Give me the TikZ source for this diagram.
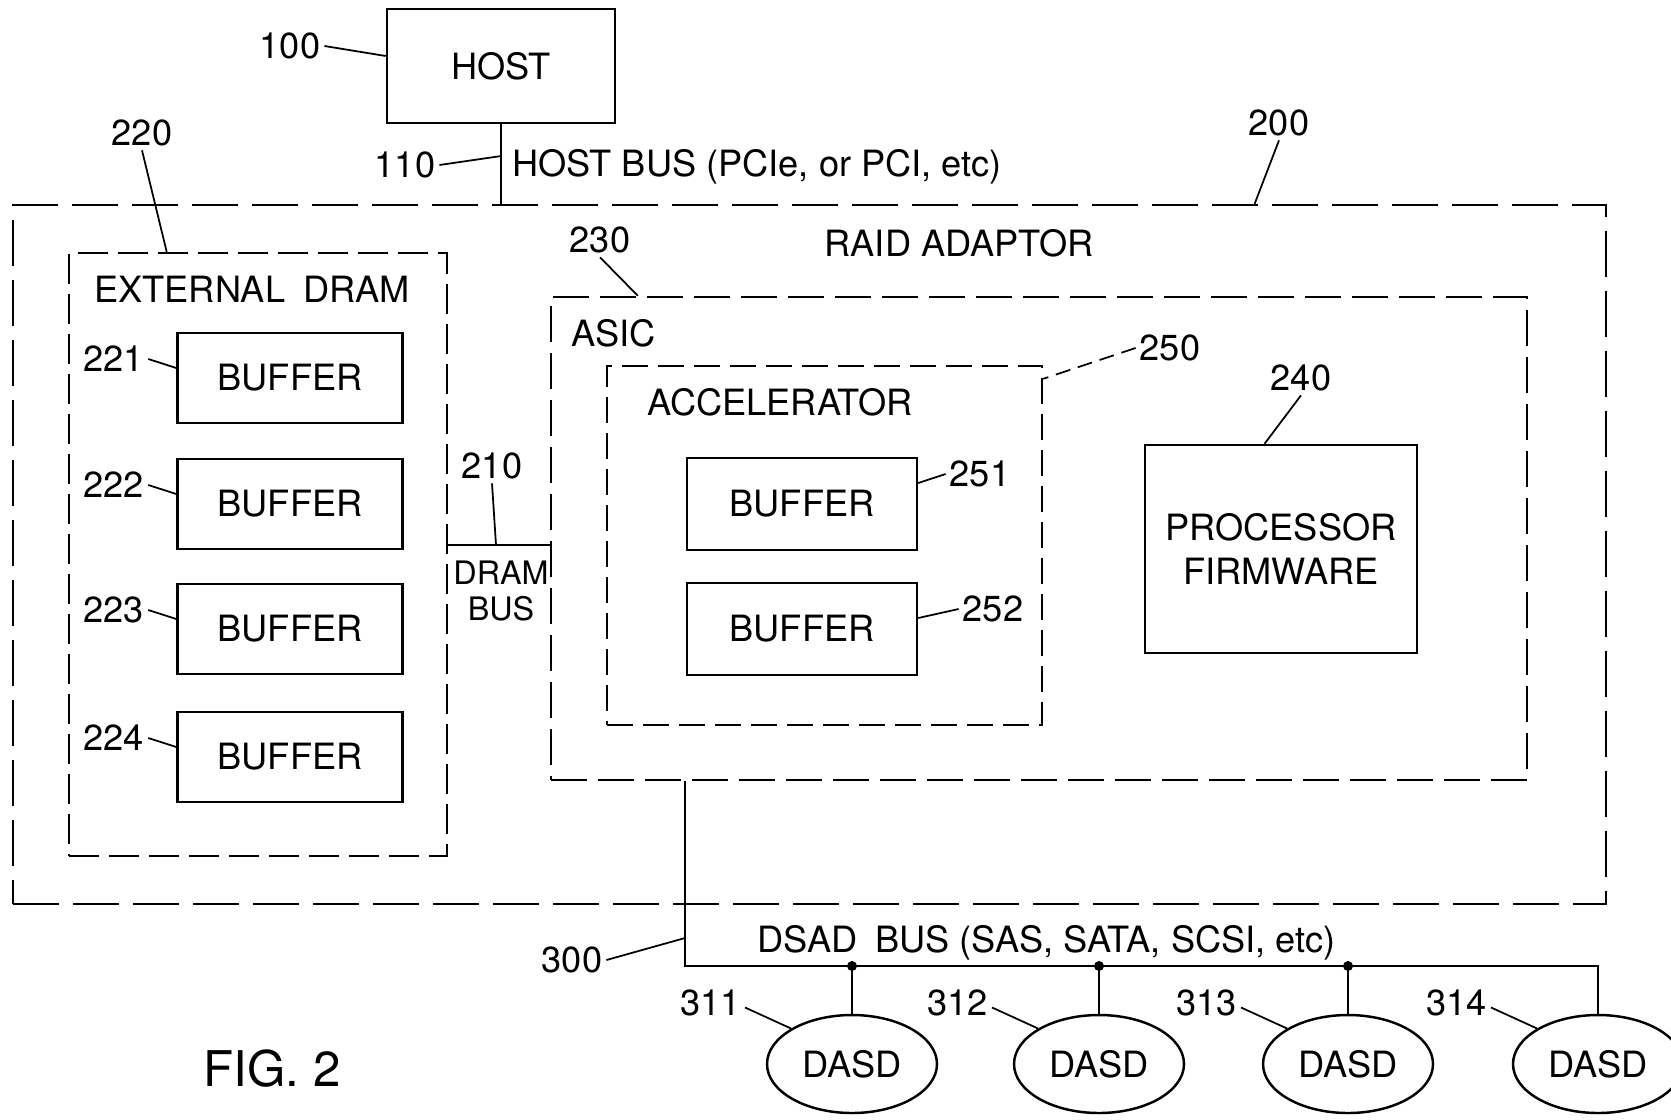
\documentclass[tikz,border=0pt]{standalone}
\usepackage{fontspec}
\setmainfont{TeX Gyre Heros}
\usetikzlibrary{shapes.geometric,calc,positioning}
\tikzset{
  every node/.style={font=\fontsize{10.3}{12.4}\selectfont},
  box/.style={draw, line width=0.7pt, inner sep=2pt, align=center},
  dashbox/.style={draw, line width=0.7pt, dash pattern=#1, inner sep=0pt},
  lead/.style={draw, line width=0.5pt},
  bus/.style={draw, line width=0.7pt},
  num/.style={inner sep=1pt},
  disk/.style={ellipse, draw, line width=0.7pt, minimum width=17mm, minimum height=9.8mm, inner sep=0pt},
}

\begin{document}
\begin{tikzpicture}[x=0.1mm, y=-0.1mm]
\useasboundingbox (0,0) rectangle (1671,1119);
\clip (0,0) rectangle (1671,1119);

% ---- host and host bus ----
\node[box, minimum width=22.8mm, minimum height=11.4mm] (host) at (501,66) {HOST};
\node[num] (n100) at (290,46) {100};
\draw[lead] (n100.east) -- ([yshift=1mm]host.west);

\node[dashbox={on 4.6mm off 1.4mm}, minimum width=159.3mm, minimum height=69.9mm] (raid) at (809.5,554.5) {};
\node at (959,243) {RAID ADAPTOR};
\node[num] (n200) at (1279,123) {200};
\draw[lead] (n200.south) -- ($(raid.north west)!0.779!(raid.north east)$);

\coordinate (hb) at ($(host.south)!0.4!(host.south |- raid.north)$);
\draw[bus] (host.south) -- (host.south |- raid.north);
\node[num] (n110) at (405,165) {110};
\draw[lead] (n110.east) -- (hb);
\node[anchor=west] (hbus) at (500,167) {HOST BUS (PCIe, or PCI, etc)};

% ---- external dram ----
\node[dashbox={on 3mm off 1mm}, minimum width=37.8mm, minimum height=60.3mm] (dram) at (258,554.5) {};
\node[anchor=west] at (82,289) {EXTERNAL\enspace DRAM};
\node[num] (n220) at (142,133) {220};
\draw[lead] (n220.south) -- ($(dram.north west)!0.26!(dram.north east)$);

\foreach \k/\y in {221/378, 222/504, 223/629, 224/757}{
  \node[box, minimum width=22.5mm, minimum height=9mm] (b\k) at (290,\y) {BUFFER};
  \node[num, anchor=east] (n\k) at ($(b\k.west)+(-28,-19)$) {\k};
  \draw[lead] (n\k.east) -- ([yshift=1mm]b\k.west);
}

% ---- asic ----
\node[dashbox={on 3.6mm off 1.1mm}, minimum width=97.6mm, minimum height=48.3mm] (asic) at (1039,538.5) {};
\node[anchor=west] at (559,333) {ASIC};
\node[num] (n230) at (600,240) {230};
\draw[lead] (n230.south) -- ($(asic.north west)!0.09!(asic.north east)$);

% dram bus
\coordinate (db) at (496,545);
\draw[bus] (db -| dram.east) -- (db -| asic.west);
\node[align=center, font=\fontsize{9.2}{10}\selectfont] (dbus) at (501,591) {DRAM\\BUS};
\node[num] (n210) at (492,466) {210};
\draw[lead] (n210.south) -- (db);

% accelerator
\node[dashbox={on 2.6mm off 1mm}, minimum width=43.5mm, minimum height=35.9mm] (accel) at (824.5,545.5) {};
\node at (780,402) {ACCELERATOR};
\node[num] (n250) at (1170,348) {250};
\draw[lead, dash pattern=on 1.5mm off 0.8mm] (n250.west) -- ([yshift=-1.4mm]accel.north east);

\foreach \k/\y in {251/504, 252/629}
  \node[box, minimum width=23mm, minimum height=9.2mm] (b\k) at (802,\y) {BUFFER};
\node[num] (n251) at (980,474) {251};
\draw[lead] (n251.west) -- ([yshift=2.1mm]b251.east);
\node[num] (n252) at (993,609) {252};
\draw[lead] (n252.west) -- ([yshift=1.1mm]b252.east);

% processor
\node[box, minimum width=27.2mm, minimum height=20.8mm] (proc) at (1281,549) {PROCESSOR\\FIRMWARE};
\node[num] (n240) at (1301,378) {240};
\draw[lead] (n240.south) -- ($(proc.north west)!0.44!(proc.north east)$);

% ---- dasd bus and drives ----
\coordinate (dsad) at (685,966);
\foreach \k/\x in {311/852, 312/1099, 313/1348, 314/1598}{
  \node[disk] (d\k) at (\x,1064) {DASD};
  \node[num, anchor=east] (n\k) at ($(d\k.north west)+(-46,-26)$) {\k};
  \draw[lead] ([yshift=-0.5mm]n\k.east) -- (d\k.north west);
}
\draw[bus] (dsad |- asic.south) -- (dsad) -| (d314.north);
\foreach \k in {311,312,313}{
  \fill (d\k.north |- dsad) circle (0.5mm);
  \draw[bus] (d\k.north |- dsad) -- (d\k.north);
}
\node[num] (n300) at (572,960) {300};
\draw[lead] (n300.east) -- ($(dsad)+(0,-28)$);
\node[anchor=west] (dsbus) at (745,943) {DSAD\enspace BUS (SAS, SATA, SCSI, etc)};

\node[font=\fontsize{14}{16}\selectfont] (fig) at (272,1069) {FIG.\ 2};

\end{tikzpicture}
\end{document}
